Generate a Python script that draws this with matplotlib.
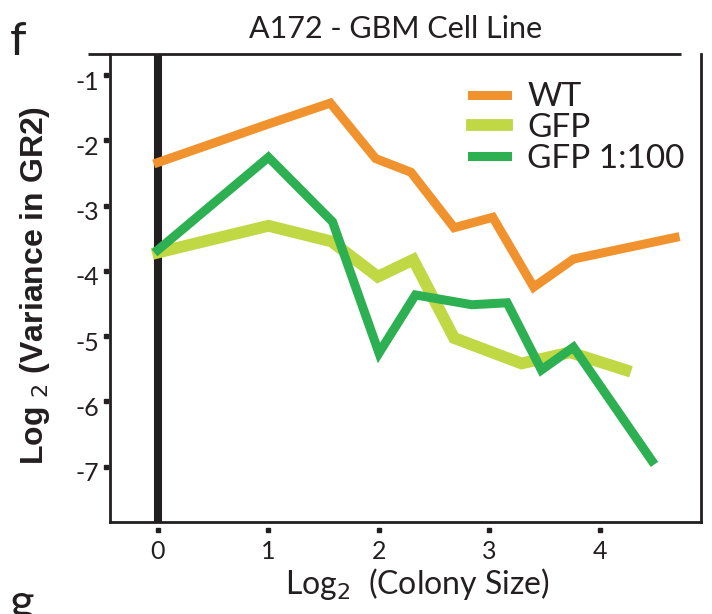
import matplotlib
matplotlib.use("Agg")
import matplotlib.pyplot as plt
import matplotlib.transforms as mtransforms

plt.rcParams['font.family'] = ['Lato', 'DejaVu Sans']

# log2 colony size vs log2 variance in growth rate
wt_x = [0.0, 1.0, 1.56, 1.97, 2.29, 2.68, 3.03, 3.40, 3.76, 4.68]
wt_y = [-2.34, -1.75, -1.43, -2.28, -2.49, -3.34, -3.18, -4.25, -3.82, -3.49]

gfp_x = [0.0, 1.0, 1.57, 1.99, 2.31, 2.68, 3.29, 3.73, 4.23]
gfp_y = [-3.72, -3.31, -3.55, -4.09, -3.83, -5.03, -5.42, -5.25, -5.52]

gfp100_x = [0.0, 1.0, 1.58, 2.00, 2.33, 2.84, 3.16, 3.47, 3.76, 4.47]
gfp100_y = [-3.68, -2.26, -3.25, -5.26, -4.37, -4.52, -4.49, -5.52, -5.17, -6.91]

x_ticks = [0, 1, 2, 3, 4]
y_ticks = [-1, -2, -3, -4, -5, -6, -7]

C_WT = '#F0932F'
C_GFP = '#C0D843'
C_GFP100 = '#2DB052'
C_INK = '#231F20'

fig = plt.figure(figsize=(7.12, 6.14), dpi=100)
ax = fig.add_axes([0.1545, 0.1498, 0.830, 0.762])

ax.set_xlim(-0.434, 4.914)
ax.set_ylim(-7.85, -0.68)

# reference line at log2 size = 0
ax.axvline(0, color=C_INK, lw=5.8, zorder=1)

ax.plot(wt_x, wt_y, color=C_WT, lw=6.5, solid_joinstyle='miter', label='WT', zorder=3)
ax.plot(gfp_x, gfp_y, color=C_GFP, lw=8.5, solid_joinstyle='miter', label='GFP', zorder=2)
ax.plot(gfp100_x, gfp100_y, color=C_GFP100, lw=6.5, solid_joinstyle='miter', label='GFP 1:100', zorder=4)

# frame: open top line that overhangs on the left
for side in ['left', 'bottom', 'right']:
    ax.spines[side].set_color(C_INK)
    ax.spines[side].set_linewidth(2)
ax.spines['top'].set_visible(False)
ax.plot([-0.633, 4.733], [1, 1], color=C_INK, lw=2,
        transform=mtransforms.blended_transform_factory(ax.transData, ax.transAxes),
        clip_on=False, solid_capstyle='butt')

# detached square tick marks
ax.set_xticks(x_ticks)
ax.set_yticks(y_ticks)
ax.set_xticklabels([str(v) for v in x_ticks], fontsize=18, color=C_INK)
ax.set_yticklabels([str(v) for v in y_ticks], fontsize=18, color=C_INK)
ax.tick_params(length=0)
ax.tick_params(axis='y', pad=8)
ax.tick_params(axis='x', pad=13)
lab_off = mtransforms.ScaledTranslation(0, -5 / 100, fig.dpi_scale_trans)
for lab in ax.get_yticklabels():
    lab.set_transform(lab.get_transform() + lab_off)

off_y = mtransforms.ScaledTranslation(-4.5 / 100, 0, fig.dpi_scale_trans)
ax.plot([0] * len(y_ticks), y_ticks, ls='none', marker='s', ms=3, color=C_INK,
        transform=mtransforms.blended_transform_factory(ax.transAxes, ax.transData) + off_y,
        clip_on=False)
off_x = mtransforms.ScaledTranslation(0, -8 / 100, fig.dpi_scale_trans)
ax.plot(x_ticks, [0] * len(x_ticks), ls='none', marker='s', ms=3, color=C_INK,
        transform=mtransforms.blended_transform_factory(ax.transData, ax.transAxes) + off_x,
        clip_on=False)

ax.set_xlabel(r'Log$_2$  (Colony Size)', fontsize=23, color=C_INK)
ax.xaxis.set_label_coords(0.52, -0.095)
ax.set_ylabel(r'Log $_2$ (Variance in GR2)', fontsize=23, fontweight='bold',
              family=['Liberation Sans', 'DejaVu Sans'], color=C_INK)
ax.yaxis.set_label_coords(-0.098, 0.505)

fig.text(0.555, 0.953, 'A172 - GBM Cell Line', ha='center', va='center', fontsize=22, color=C_INK)
fig.text(0.014, 0.932, 'f', ha='left', va='center', fontsize=34, color=C_INK)
fig.text(0.014, 0.016, 'g', ha='left', va='center', fontsize=34, color=C_INK)

leg = ax.legend(loc='upper left', bbox_to_anchor=(0.612, 0.94), frameon=False,
                fontsize=24, handlelength=1.06, handletextpad=0.6, labelspacing=0.02,
                borderaxespad=0.0, borderpad=0.0)
for t in leg.get_texts():
    t.set_color(C_INK)

fig.savefig('out.png', dpi=100)
